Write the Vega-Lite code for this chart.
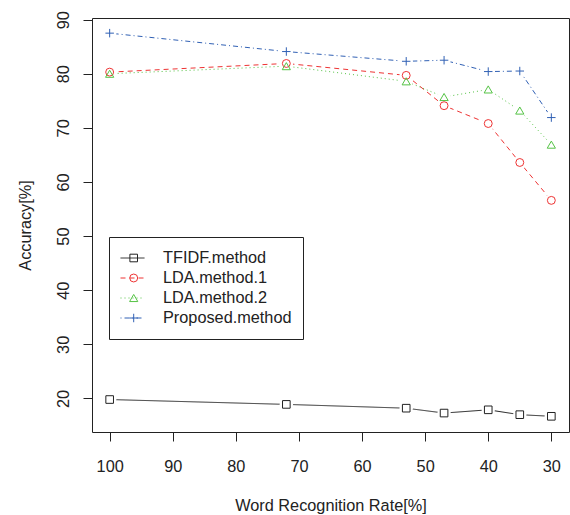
{
  "$schema": "https://vega.github.io/schema/vega-lite/v6.json",
  "width": 477,
  "height": 414,
  "autosize": "none",
  "padding": {"left": 92, "top": 18, "right": 1, "bottom": 83},
  "background": "white",
  "config": {
    "view": {"stroke": "#222", "strokeWidth": 1},
    "font": "Liberation Sans",
    "axis": {
      "grid": false,
      "domain": false,
      "tickColor": "#222",
      "tickSize": 9,
      "labelFont": "Liberation Sans",
      "labelFontSize": 16.3,
      "labelColor": "#222",
      "titleFont": "Liberation Sans",
      "titleFontSize": 16.3,
      "titleFontWeight": "normal",
      "titleColor": "#222"
    }
  },
  "data": {
    "values": [
      {"method": "TFIDF.method", "rate": 100, "acc": 19.8},
      {"method": "TFIDF.method", "rate": 72, "acc": 18.9},
      {"method": "TFIDF.method", "rate": 53, "acc": 18.2},
      {"method": "TFIDF.method", "rate": 47, "acc": 17.3},
      {"method": "TFIDF.method", "rate": 40, "acc": 17.9},
      {"method": "TFIDF.method", "rate": 35, "acc": 17.0},
      {"method": "TFIDF.method", "rate": 30, "acc": 16.7},
      {"method": "LDA.method.1", "rate": 100, "acc": 80.3},
      {"method": "LDA.method.1", "rate": 72, "acc": 81.9},
      {"method": "LDA.method.1", "rate": 53, "acc": 79.7},
      {"method": "LDA.method.1", "rate": 47, "acc": 74.1},
      {"method": "LDA.method.1", "rate": 40, "acc": 70.8},
      {"method": "LDA.method.1", "rate": 35, "acc": 63.6},
      {"method": "LDA.method.1", "rate": 30, "acc": 56.6},
      {"method": "LDA.method.2", "rate": 100, "acc": 80.0},
      {"method": "LDA.method.2", "rate": 72, "acc": 81.4},
      {"method": "LDA.method.2", "rate": 53, "acc": 78.6},
      {"method": "LDA.method.2", "rate": 47, "acc": 75.7},
      {"method": "LDA.method.2", "rate": 40, "acc": 77.1},
      {"method": "LDA.method.2", "rate": 35, "acc": 73.2},
      {"method": "LDA.method.2", "rate": 30, "acc": 66.9},
      {"method": "Proposed.method", "rate": 100, "acc": 87.5},
      {"method": "Proposed.method", "rate": 72, "acc": 84.1},
      {"method": "Proposed.method", "rate": 53, "acc": 82.3},
      {"method": "Proposed.method", "rate": 47, "acc": 82.5},
      {"method": "Proposed.method", "rate": 40, "acc": 80.4},
      {"method": "Proposed.method", "rate": 35, "acc": 80.5},
      {"method": "Proposed.method", "rate": 30, "acc": 71.9}
    ]
  },
  "encoding": {
    "x": {
      "field": "rate",
      "type": "quantitative",
      "scale": {"domain": [27.2, 102.8], "reverse": true, "nice": false, "zero": false},
      "axis": {
        "values": [100, 90, 80, 70, 60, 50, 40, 30],
        "labelPadding": 17,
        "title": "Word Recognition Rate[%]",
        "titlePadding": 23
      }
    },
    "y": {
      "field": "acc",
      "type": "quantitative",
      "scale": {"domain": [13.8, 90.3], "nice": false, "zero": false},
      "axis": {
        "values": [20, 30, 40, 50, 60, 70, 80, 90],
        "labelAngle": 270,
        "labelAlign": "center",
        "labelBaseline": "alphabetic",
        "labelPadding": 15,
        "title": "Accuracy[%]",
        "titlePadding": 22
      }
    }
  },
  "layer": [
    {
      "mark": {"type": "line", "strokeWidth": 1},
      "encoding": {
        "color": {
          "field": "method",
          "type": "nominal",
          "scale": {
            "domain": ["TFIDF.method", "LDA.method.1", "LDA.method.2", "Proposed.method"],
            "range": ["#222222", "#EE3333", "#55C345", "#3060B4"]
          },
          "legend": {
            "orient": "none",
            "legendX": 17,
            "legendY": 219,
            "title": null,
            "symbolType": "stroke",
            "symbolSize": 576,
            "symbolStrokeWidth": 1,
            "labelFont": "Liberation Sans",
            "labelFontSize": 16.3,
            "labelColor": "#222",
            "labelOffset": 18,
            "strokeColor": "#222",
            "fillColor": "white",
            "padding": 11,
            "clipHeight": 20,
            "rowPadding": 0
          }
        },
        "strokeDash": {
          "field": "method",
          "type": "nominal",
          "scale": {
            "domain": ["TFIDF.method", "LDA.method.1", "LDA.method.2", "Proposed.method"],
            "range": [[1, 0], [5, 4], [1, 3], [1, 3, 5, 3]]
          }
        }
      }
    },
    {
      "mark": {"type": "point", "shape": "circle", "filled": true, "fill": "white", "stroke": null, "strokeWidth": 0, "opacity": 1, "size": 180},
      "encoding": {}
    },
    {
      "mark": {"type": "point", "filled": false, "strokeWidth": 1, "opacity": 1},
      "encoding": {
        "color": {
          "field": "method",
          "type": "nominal",
          "scale": {
            "domain": ["TFIDF.method", "LDA.method.1", "LDA.method.2", "Proposed.method"],
            "range": ["#222222", "#EE3333", "#55C345", "#3060B4"]
          },
          "legend": {
            "orient": "none",
            "legendX": 17,
            "legendY": 219,
            "title": null,
            "symbolStrokeWidth": 1,
            "symbolOffset": 8.7,
            "labelFontSize": 1,
            "labelOpacity": 0,
            "labelOffset": 1,
            "padding": 11,
            "clipHeight": 20,
            "rowPadding": 0
          }
        },
        "shape": {
          "field": "method",
          "type": "nominal",
          "scale": {
            "domain": ["TFIDF.method", "LDA.method.1", "LDA.method.2", "Proposed.method"],
            "range": ["square", "circle", "triangle-up", "M-1,0L1,0M0,-1L0,1"]
          }
        },
        "size": {
          "field": "method",
          "type": "nominal",
          "scale": {
            "domain": ["TFIDF.method", "LDA.method.1", "LDA.method.2", "Proposed.method"],
            "range": [58, 72, 100, 160]
          }
        }
      }
    }
  ],
  "resolve": {"scale": {"color": "independent", "strokeDash": "independent", "shape": "independent", "size": "independent"}}
}
